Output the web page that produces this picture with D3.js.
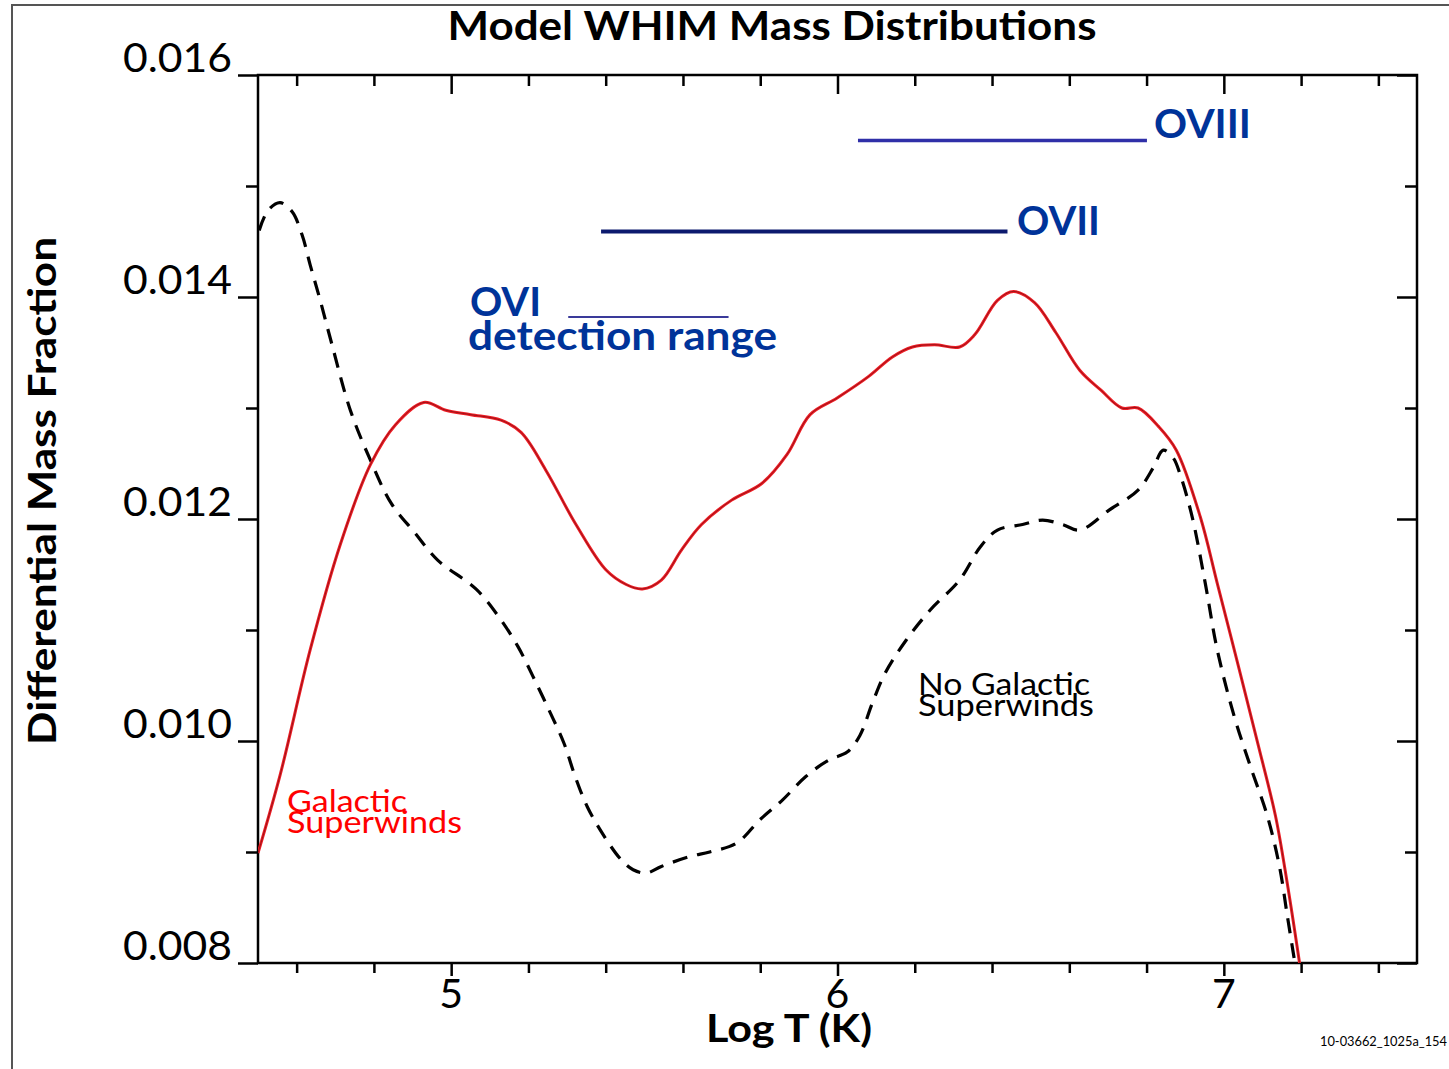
<!DOCTYPE html>
<html>
<head>
<meta charset="utf-8">
<script src="https://cdn.jsdelivr.net/npm/d3@7"></script>
<style>
  html, body { margin: 0; padding: 0; background: #fff; }
  svg { display: block; }
  text { font-family: Lato, "Open Sans", sans-serif; }
</style>
</head>
<body>
<svg id="chart" width="1449" height="1069"></svg>
<script>
// Log T (K) samples and differential mass fraction, with galactic superwinds
const logTWinds = [4.500, 4.557, 4.635, 4.713, 4.791, 4.856, 4.929, 4.986, 5.051, 5.129,
  5.181, 5.245, 5.323, 5.401, 5.453, 5.495, 5.544, 5.596, 5.648, 5.726,
  5.804, 5.869, 5.929, 5.999, 6.079, 6.142, 6.194, 6.251, 6.316, 6.355,
  6.414, 6.456, 6.510, 6.565, 6.627, 6.682, 6.736, 6.778, 6.832, 6.877,
  6.939, 6.983, 7.038, 7.090, 7.134, 7.165, 7.196];
const massWinds = [0.00899, 0.00969, 0.01082, 0.01177, 0.01249, 0.01285, 0.01305, 0.01298, 0.01294, 0.01289,
  0.01278, 0.01244, 0.01195, 0.01154, 0.01141, 0.01137, 0.01145, 0.01172, 0.01195, 0.01217,
  0.01232, 0.01258, 0.01294, 0.01309, 0.01328, 0.01346, 0.01355, 0.01357, 0.01355, 0.01366,
  0.01397, 0.01405, 0.01395, 0.01368, 0.01334, 0.01316, 0.01300, 0.01300, 0.01283, 0.01262,
  0.01202, 0.01142, 0.01067, 0.00995, 0.00932, 0.00870, 0.00800];

// Same quantity without galactic superwinds
const logTNoWinds = [4.503, 4.526, 4.557, 4.588, 4.614, 4.635, 4.661, 4.690, 4.739, 4.791,
  4.845, 4.905, 4.965, 5.064, 5.123, 5.173, 5.212, 5.253, 5.292, 5.321,
  5.352, 5.391, 5.440, 5.471, 5.505, 5.544, 5.619, 5.669, 5.739, 5.799,
  5.858, 5.918, 5.978, 6.025, 6.058, 6.090, 6.123, 6.178, 6.240, 6.316,
  6.370, 6.414, 6.479, 6.531, 6.583, 6.627, 6.703, 6.778, 6.817, 6.843,
  6.869, 6.887, 6.918, 6.952, 6.983, 7.027, 7.069, 7.113, 7.144, 7.165, 7.184];
const massNoWinds = [0.01460, 0.01478, 0.01485, 0.01477, 0.01456, 0.01429, 0.01397, 0.01359, 0.01298, 0.01253,
  0.01214, 0.01188, 0.01163, 0.01137, 0.01112, 0.01085, 0.01058, 0.01028, 0.00998, 0.00968,
  0.00941, 0.00917, 0.00893, 0.00884, 0.00881, 0.00887, 0.00896, 0.00900, 0.00908, 0.00929,
  0.00947, 0.00968, 0.00983, 0.00990, 0.01005, 0.01034, 0.01061, 0.01091, 0.01118, 0.01145,
  0.01175, 0.01190, 0.01195, 0.01199, 0.01195, 0.01190, 0.01208, 0.01226, 0.01246, 0.01262,
  0.01255, 0.01240, 0.01202, 0.01142, 0.01082, 0.01022, 0.00977, 0.00932, 0.00887, 0.00841, 0.00800];

// Ion detection ranges in Log T, and the level at which each bar is drawn
const ionNames = ["OVIII", "OVII", "OVI"];
const ionRangeStart = [6.053, 5.388, 5.303];
const ionRangeEnd = [6.801, 6.440, 5.718];
const ionLevel = [0.01541, 0.01459, 0.01382];

// Tick labels
const xTickLabels = ["5", "6", "7"];
const yTickLabels = ["0.008", "0.010", "0.012", "0.014", "0.016"];

const svg = d3.select("#chart");
const plot = { left: 258, right: 1417, top: 75, bottom: 963 };

const x = d3.scaleLinear().domain([4.5, 7.5]).range([plot.left, plot.right]);
const y = d3.scaleLinear().domain([0.008, 0.016]).range([plot.bottom, plot.top]);

// Outer figure frame
svg.append("rect")
  .attr("x", 12).attr("y", 5).attr("width", 1460).attr("height", 1100)
  .attr("fill", "none").attr("stroke", "#555").attr("stroke-width", 2);

// Tick positions
const xTicks = d3.range(23, 38).map(i => i / 5);
const yTicks = d3.range(8, 17).map(i => i / 1000);
const xMajor = d => Number.isInteger(d);
const yMajor = d => Math.round(d * 1000) % 2 === 0;

function styleTicks(g) {
  g.select(".domain").remove();
  g.selectAll(".tick text").remove();
  g.selectAll(".tick line").attr("stroke", "#000").attr("stroke-width", 2.5);
}

// Bottom: outward ticks
svg.append("g").attr("transform", `translate(0,${plot.bottom})`)
  .call(d3.axisBottom(x).tickValues(xTicks).tickSize(10))
  .call(styleTicks)
  .selectAll(".tick line").attr("y2", d => xMajor(d) ? 13 : 10);

// Top: inward ticks
svg.append("g").attr("transform", `translate(0,${plot.top})`)
  .call(d3.axisTop(x).tickValues(xTicks).tickSize(-11))
  .call(styleTicks)
  .selectAll(".tick line").attr("y2", d => xMajor(d) ? 19 : 11);

// Left: outward ticks
svg.append("g").attr("transform", `translate(${plot.left},0)`)
  .call(d3.axisLeft(y).tickValues(yTicks).tickSize(12))
  .call(styleTicks)
  .selectAll(".tick line").attr("x2", d => yMajor(d) ? -20 : -12);

// Right: inward ticks
svg.append("g").attr("transform", `translate(${plot.right},0)`)
  .call(d3.axisRight(y).tickValues(yTicks).tickSize(-12))
  .call(styleTicks)
  .selectAll(".tick line").attr("x2", d => yMajor(d) ? -20 : -12);

// Plot frame
svg.append("rect")
  .attr("x", plot.left).attr("y", plot.top)
  .attr("width", plot.right - plot.left).attr("height", plot.bottom - plot.top)
  .attr("fill", "none").attr("stroke", "#000").attr("stroke-width", 2.5);

// Tick labels
svg.append("g").selectAll("text").data(xTickLabels).join("text")
  .attr("x", d => x(+d)).attr("y", 1008)
  .attr("text-anchor", "middle").attr("font-size", 41).attr("fill", "#000")
  .text(d => d);

svg.append("g").selectAll("text").data(yTickLabels).join("text")
  .attr("x", 232).attr("y", d => y(+d) - 3)
  .attr("text-anchor", "end").attr("font-size", 40).attr("fill", "#000")
  .attr("textLength", 109).attr("lengthAdjust", "spacingAndGlyphs")
  .text(d => d);

// Curves
const line = d3.line().curve(d3.curveCatmullRom.alpha(0.5));
svg.append("clipPath").attr("id", "plotclip").append("rect")
  .attr("x", plot.left).attr("y", plot.top - 10)
  .attr("width", plot.right - plot.left).attr("height", plot.bottom - plot.top + 10);

const curves = svg.append("g").attr("clip-path", "url(#plotclip)");

curves.append("path")
  .attr("d", line(logTNoWinds.map((t, i) => [x(t), y(massNoWinds[i])])))
  .attr("fill", "none").attr("stroke", "#000").attr("stroke-width", 3.2)
  .attr("stroke-dasharray", "15 10");

const windsPts = logTWinds.map((t, i) => [x(t), y(massWinds[i])]);
curves.append("path")
  .attr("d", line(windsPts))
  .attr("fill", "none").attr("stroke", "#ee1c24").attr("stroke-width", 3);
curves.append("path")
  .attr("d", line(windsPts))
  .attr("fill", "none").attr("stroke", "#5a0d10").attr("stroke-width", 0.8)
  .attr("stroke-opacity", 0.7);

// Ion detection range bars
const barColors = ["#2f2fa8", "#0c1a6e", "#3a3a9a"];
const barWidths = [3.5, 4, 2.2];
ionNames.forEach((name, i) => {
  svg.append("line")
    .attr("x1", x(ionRangeStart[i])).attr("x2", x(ionRangeEnd[i]))
    .attr("y1", y(ionLevel[i])).attr("y2", y(ionLevel[i]))
    .attr("stroke", barColors[i]).attr("stroke-width", barWidths[i]);
});

const blue = "#003399";
svg.append("text").attr("x", 1154).attr("y", 138)
  .attr("font-size", 40).attr("font-weight", 700).attr("fill", blue)
  .attr("textLength", 97).attr("lengthAdjust", "spacingAndGlyphs").text(ionNames[0]);
svg.append("text").attr("x", 1017).attr("y", 235)
  .attr("font-size", 40).attr("font-weight", 700).attr("fill", blue)
  .attr("textLength", 83).attr("lengthAdjust", "spacingAndGlyphs").text(ionNames[1]);
svg.append("text").attr("x", 470).attr("y", 316)
  .attr("font-size", 40).attr("font-weight", 700).attr("fill", blue)
  .attr("textLength", 71).attr("lengthAdjust", "spacingAndGlyphs").text(ionNames[2]);
svg.append("text").attr("x", 468).attr("y", 350)
  .attr("font-size", 40).attr("font-weight", 700).attr("fill", blue)
  .attr("textLength", 309).attr("lengthAdjust", "spacingAndGlyphs").text("detection range");

// Series labels
svg.append("text").attr("x", 287).attr("y", 812)
  .attr("font-size", 30).attr("fill", "#ff0000")
  .attr("textLength", 120).attr("lengthAdjust", "spacingAndGlyphs").text("Galactic");
svg.append("text").attr("x", 287).attr("y", 833)
  .attr("font-size", 30).attr("fill", "#ff0000")
  .attr("textLength", 175).attr("lengthAdjust", "spacingAndGlyphs").text("Superwinds");

svg.append("text").attr("x", 918).attr("y", 695)
  .attr("font-size", 30).attr("fill", "#000")
  .attr("textLength", 172).attr("lengthAdjust", "spacingAndGlyphs").text("No Galactic");
svg.append("text").attr("x", 918).attr("y", 716)
  .attr("font-size", 30).attr("fill", "#000")
  .attr("textLength", 176).attr("lengthAdjust", "spacingAndGlyphs").text("Superwinds");

// Titles
svg.append("text").attr("x", 772).attr("y", 40)
  .attr("text-anchor", "middle").attr("font-size", 40).attr("font-weight", 700)
  .attr("textLength", 649).attr("lengthAdjust", "spacingAndGlyphs")
  .text("Model WHIM Mass Distributions");

svg.append("text").attr("x", 789).attr("y", 1042)
  .attr("text-anchor", "middle").attr("font-size", 39).attr("font-weight", 700)
  .attr("textLength", 166).attr("lengthAdjust", "spacingAndGlyphs")
  .text("Log T (K)");

svg.append("text")
  .attr("transform", "translate(56,491) rotate(-90)")
  .attr("text-anchor", "middle").attr("font-size", 39).attr("font-weight", 700)
  .attr("textLength", 508).attr("lengthAdjust", "spacingAndGlyphs")
  .text("Differential Mass Fraction");

svg.append("text").attr("x", 1447).attr("y", 1046)
  .attr("text-anchor", "end").attr("font-size", 13).attr("fill", "#000")
  .attr("font-family", "'Liberation Sans Narrow', 'Liberation Sans', sans-serif")
  .attr("textLength", 127).attr("lengthAdjust", "spacingAndGlyphs")
  .text("10-03662_1025a_154");
</script>
</body>
</html>
